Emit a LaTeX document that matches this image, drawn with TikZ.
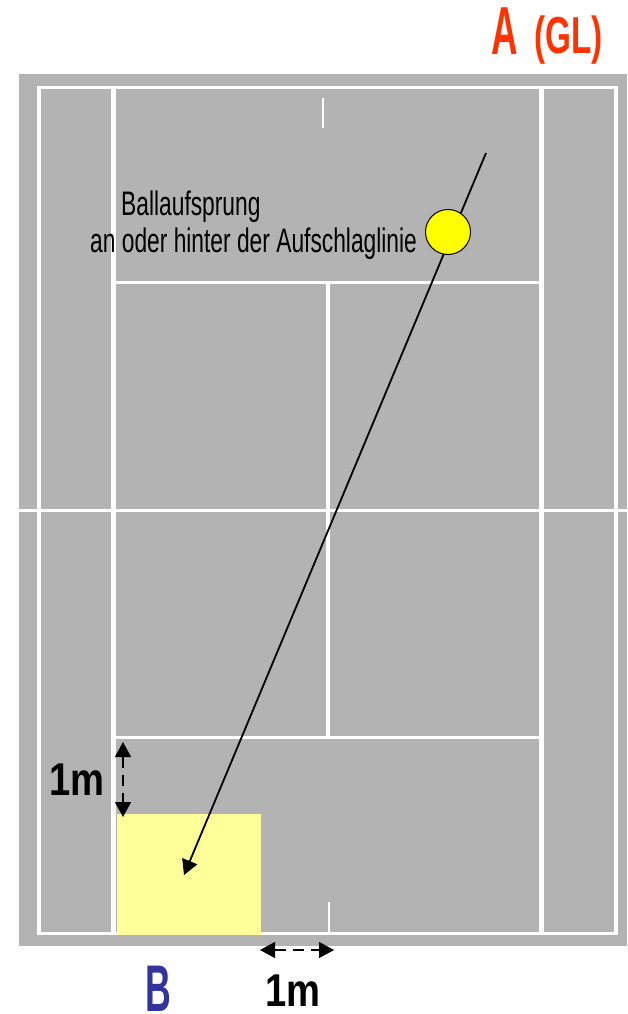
\documentclass[tikz,border=0pt]{standalone}
\usepackage{fontspec}
\setmainfont{Liberation Sans}
\newfontfamily\narrowfont[FakeStretch=0.67]{Liberation Sans}
\newfontfamily\headfont[FakeStretch=0.54]{Liberation Sans}
\newfontfamily\rolefont[FakeStretch=0.64]{Liberation Sans}
\newfontfamily\metrefont[FakeStretch=0.83]{Liberation Sans}
\usepackage{xcolor}
\definecolor{Court}{HTML}{B3B3B3}
\definecolor{Ball}{HTML}{FFFF00}
\definecolor{Target}{HTML}{FFFF99}
\definecolor{PlayerA}{HTML}{FF3300}
\definecolor{PlayerB}{HTML}{333399}
\usetikzlibrary{arrows.meta,positioning}

\begin{document}
\begin{tikzpicture}[
  x=1pt,y=-1pt,
  courtline/.style={draw=white,line width=3.5pt},
  markline/.style={draw=white,line width=2.5pt},
  flight/.style={-{Triangle[length=15pt,width=16pt]},draw=black,line width=1.8pt},
  dimarrow/.style={{Triangle[length=15pt,width=16pt]}-{Triangle[length=15pt,width=16pt]},draw=black,line width=1.2pt,dash pattern=on 11pt off 7pt},
  remark/.style={font=\narrowfont\fontsize{34}{34}\selectfont,anchor=base west,inner sep=0pt},
  metre/.style={font=\metrefont\bfseries\fontsize{46}{46}\selectfont,anchor=base west,inner sep=0pt},
  player/.style={font=\headfont\bfseries\fontsize{68}{68}\selectfont,anchor=base west,inner sep=0pt}
]
  \useasboundingbox (0,0) rectangle (627,1014);
  \fill[Court] (19,74) rectangle (627,946);

  % lines of the court
  \draw[courtline] (39,87.5) rectangle (616,933.5);
  \draw[courtline,line width=4.5pt] (113.5,87.5) -- (113.5,933.5);
  \draw[courtline,line width=4.5pt] (541.5,87.5) -- (541.5,933.5);
  \draw[courtline,line width=3pt] (113.5,282.5) -- (541.5,282.5);
  \draw[courtline,line width=3pt] (113.5,737.5) -- (541.5,737.5);
  \draw[courtline,line width=4pt] (327.5,282.5) -- (327.5,737.5);
  \draw[courtline,line width=3pt] (19,510.5) -- (627,510.5);
  \draw[markline] (323,98) -- (323,128);
  \draw[markline] (329,902) -- (329,933);

  \fill[Target] (117,814) rectangle (261,935);

  \coordinate (serve) at (486,153);
  \coordinate (landing) at (184,875);
  \draw[flight] (serve) -- (landing);
  \node[circle,draw=black,fill=Ball,line width=1pt,minimum size=45pt,inner sep=0pt] (ball) at (448,232) {};

  \node[remark] (bounce) at (121,215) {Ballaufsprung};
  \node[remark] (lineText) at (90,252) {an oder hinter der Aufschlaglinie};

  \coordinate (dimTop) at (123,742);
  \coordinate (dimBottom) at (123,817);
  \coordinate (dimLeft) at (260,950);
  \coordinate (dimRight) at (334,950);
  \draw[dimarrow] (dimTop) -- (dimBottom);
  \draw[dimarrow] (dimLeft) -- (dimRight);

  \node[metre] (sideMetre) at (49,795) {1m};
  \node[metre] (baseMetre) at (265,1006) {1m};

  \node[player,text=PlayerA] (playerA) at (491,55) {A};
  \node[player,text=PlayerA,font=\rolefont\bfseries\fontsize{52}{52}\selectfont] (roleA) at (534,54) {(GL)};
  \node[player,text=PlayerB,font=\headfont\bfseries\fontsize{66}{66}\selectfont] (playerB) at (145,1011) {B};
\end{tikzpicture}
\end{document}
